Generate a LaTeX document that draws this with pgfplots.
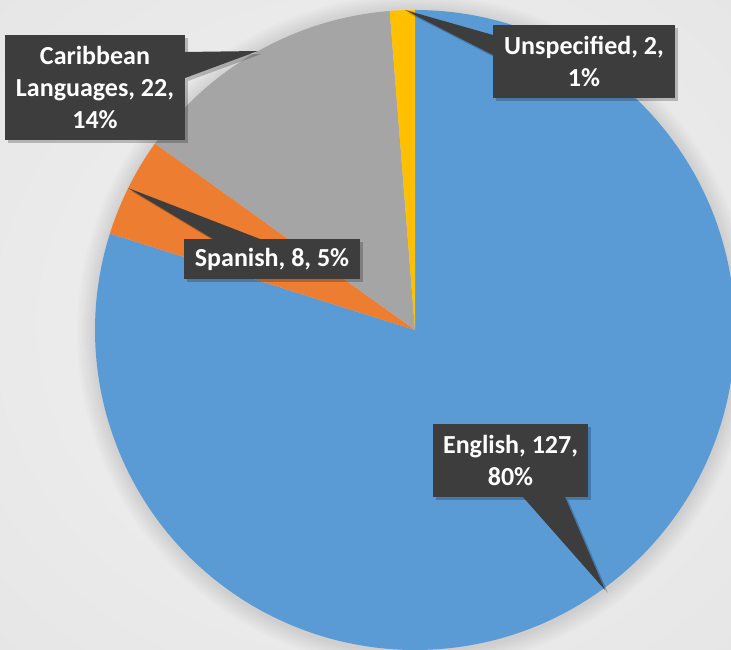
\documentclass[border=0pt]{standalone}
\usepackage{fontspec}
\setmainfont{Carlito}
\usepackage{pgfplots}
\usepackage{pgfplotstable}
\pgfplotsset{compat=1.18}

\definecolor{pieblue}{HTML}{5B9BD5}
\definecolor{pieorange}{HTML}{ED7D31}
\definecolor{piegray}{HTML}{A5A5A5}
\definecolor{pieyellow}{HTML}{FFC000}
\definecolor{tagfill}{HTML}{3D3D3D}
\definecolor{bgmid}{HTML}{F2F2F2}
\definecolor{bgring}{HTML}{E6E6E6}
\definecolor{bgedge}{HTML}{CFCFCF}

\pgfdeclareradialshading{chartbg}{\pgfpoint{0bp}{0bp}}{%
  color(0bp)=(bgmid); color(36bp)=(bgring); color(72bp)=(bgedge)}

\pgfplotstableread{
lang value col
English 127 pieblue
Spanish 8 pieorange
Caribbean 22 piegray
Unspecified 2 pieyellow
}\piedata

% slices run clockwise from 12 o'clock
\def\pietotal{0}
\pgfplotstableforeachcolumnelement{value}\of\piedata\as\pieval{%
  \pgfmathsetmacro\pietmp{\pietotal+\pieval}\xdef\pietotal{\pietmp}}
\def\piecum{0}
\pgfplotsforeachungrouped \pieidx in {0,...,3}{%
  \pgfplotstablegetelem{\pieidx}{value}\of\piedata
  \pgfmathsetmacro\pieA{90-(\piecum/\pietotal)*360}
  \pgfmathsetmacro\pieC{\piecum+\pgfplotsretval}
  \pgfmathsetmacro\pieB{90-(\pieC/\pietotal)*360}
  \xdef\piecum{\pieC}
  \pgfplotstablegetelem{\pieidx}{col}\of\piedata
  \expandafter\xdef\csname pieslice\pieidx\endcsname{%
    \noexpand\fill[\pgfplotsretval] (axis cs:415,320) -- ++(\pieA:320pt)
      arc[start angle=\pieA, end angle=\pieB, radius=320pt] -- cycle;}
}

\tikzset{tag/.style={fill=tagfill, text=white, inner sep=0pt, align=center,
    font=\fontsize{26}{32}\selectfont\bfseries},
  tagshadow/.style={fill=black, opacity=0.22, inner sep=0pt}}

\begin{document}
\begin{tikzpicture}
\begin{axis}[
    scale only axis,
    width=731pt, height=650pt,
    xmin=0, xmax=731, ymin=0, ymax=650,
    hide axis,
    clip=true,
]
\shade[shading=chartbg] (axis cs:0,0) rectangle (axis cs:731,650);
% soft halo round the pie
\pgfplotsinvokeforeach{2,4,...,18}{%
  \fill[black, opacity=0.012] (axis cs:415,318) circle[radius=320pt+#1pt];}
\pgfplotsinvokeforeach{0,...,3}{\csname pieslice#1\endcsname}

% data labels: shadows
\begin{scope}[shift={(3pt,-3pt)}]
\fill[black, opacity=0.22] (axis cs:185,598) -- (axis cs:258,599) -- (axis cs:185,572) -- cycle;
\node[tagshadow, minimum width=180pt, minimum height=105pt] at (axis cs:95,562.5) {};
\fill[black, opacity=0.22] (axis cs:493,615) -- (axis cs:405,640) -- (axis cs:493,595) -- cycle;
\node[tagshadow, minimum width=182pt, minimum height=73pt] at (axis cs:584,588.5) {};
\fill[black, opacity=0.22] (axis cs:213,411) -- (axis cs:128,462) -- (axis cs:260,411) -- cycle;
\node[tagshadow, minimum width=176pt, minimum height=40pt] at (axis cs:272,391) {};
\fill[black, opacity=0.22] (axis cs:523,153) -- (axis cs:605,60) -- (axis cs:565,153) -- cycle;
\node[tagshadow, minimum width=155pt, minimum height=73pt] at (axis cs:510.5,189.5) {};
\end{scope}

% data labels
\fill[tagfill] (axis cs:185,598) -- (axis cs:258,599) -- (axis cs:185,572) -- cycle;
\node[tag, minimum width=180pt, minimum height=105pt] at (axis cs:95,562.5)
  {Caribbean\\Languages, 22,\\14\%};
\fill[tagfill] (axis cs:493,615) -- (axis cs:405,640) -- (axis cs:493,595) -- cycle;
\node[tag, minimum width=182pt, minimum height=73pt] at (axis cs:584,588.5)
  {Unspecified, 2,\\1\%};
\fill[tagfill] (axis cs:213,411) -- (axis cs:128,462) -- (axis cs:260,411) -- cycle;
\node[tag, minimum width=176pt, minimum height=40pt] at (axis cs:272,391)
  {Spanish, 8, 5\%};
\fill[tagfill] (axis cs:523,153) -- (axis cs:605,60) -- (axis cs:565,153) -- cycle;
\node[tag, minimum width=155pt, minimum height=73pt] at (axis cs:510.5,189.5)
  {English, 127,\\80\%};
\end{axis}
\pgfresetboundingbox
\path (0,0) rectangle (731pt,650pt);
\end{tikzpicture}
\end{document}
